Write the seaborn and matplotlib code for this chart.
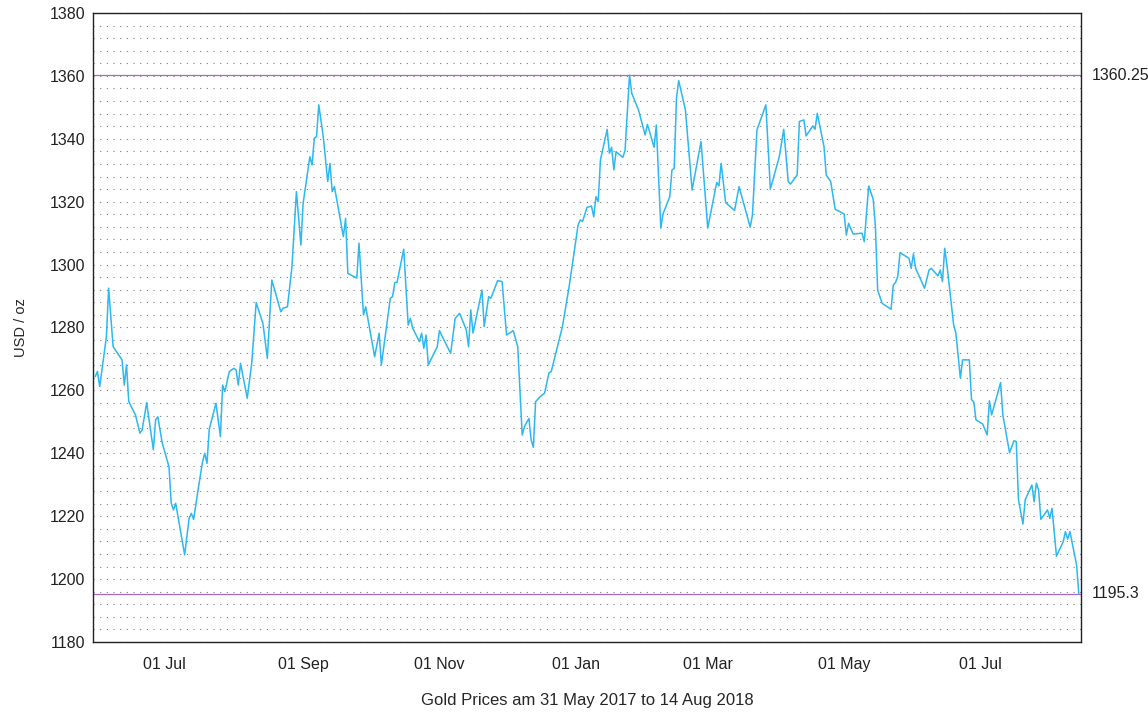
import pandas as pd
import matplotlib.pyplot as plt
import matplotlib.dates as mdates
import matplotlib.transforms as mtransforms
from matplotlib.ticker import MultipleLocator
import seaborn as sns

# config
OUT_PATH = "out.png"
title = "Gold Prices am 31 May 2017 to 14 Aug 2018"
y_label = "USD / oz"
line_color = "#2cb8f0"
limit_color = "#a66ac4"

# daily am fix
dates = [
    "2017-05-31", "2017-06-01", "2017-06-02", "2017-06-05", "2017-06-06", "2017-06-08",
    "2017-06-12", "2017-06-13", "2017-06-14", "2017-06-15", "2017-06-18", "2017-06-20",
    "2017-06-21", "2017-06-23", "2017-06-26", "2017-06-27", "2017-06-28", "2017-06-30",
    "2017-07-03", "2017-07-04", "2017-07-05", "2017-07-06", "2017-07-10", "2017-07-12",
    "2017-07-13", "2017-07-14", "2017-07-16", "2017-07-18", "2017-07-19", "2017-07-20",
    "2017-07-21", "2017-07-24", "2017-07-26", "2017-07-27", "2017-07-28", "2017-07-30",
    "2017-08-01", "2017-08-02", "2017-08-03", "2017-08-04", "2017-08-07", "2017-08-09",
    "2017-08-11", "2017-08-14", "2017-08-16", "2017-08-18", "2017-08-22", "2017-08-23",
    "2017-08-25", "2017-08-27", "2017-08-29", "2017-08-31", "2017-09-01", "2017-09-04",
    "2017-09-05", "2017-09-06", "2017-09-07", "2017-09-08", "2017-09-10", "2017-09-12",
    "2017-09-13", "2017-09-14", "2017-09-15", "2017-09-19", "2017-09-20", "2017-09-21",
    "2017-09-25", "2017-09-26", "2017-09-28", "2017-09-29", "2017-10-03", "2017-10-05",
    "2017-10-06", "2017-10-10", "2017-10-11", "2017-10-12", "2017-10-13", "2017-10-16",
    "2017-10-18", "2017-10-19", "2017-10-20", "2017-10-23", "2017-10-24", "2017-10-25",
    "2017-10-26", "2017-10-27", "2017-10-31", "2017-11-01", "2017-11-03", "2017-11-06",
    "2017-11-08", "2017-11-10", "2017-11-13", "2017-11-14", "2017-11-15", "2017-11-16",
    "2017-11-20", "2017-11-21", "2017-11-23", "2017-11-24", "2017-11-27", "2017-11-29",
    "2017-12-01", "2017-12-04", "2017-12-06", "2017-12-08", "2017-12-09", "2017-12-11",
    "2017-12-12", "2017-12-13", "2017-12-14", "2017-12-16", "2017-12-18", "2017-12-20",
    "2017-12-21", "2017-12-26", "2017-12-29", "2018-01-02", "2018-01-03", "2018-01-04",
    "2018-01-06", "2018-01-08", "2018-01-09", "2018-01-10", "2018-01-11", "2018-01-12",
    "2018-01-15", "2018-01-16", "2018-01-17", "2018-01-18", "2018-01-19", "2018-01-22",
    "2018-01-23", "2018-01-25", "2018-01-26", "2018-01-29", "2018-02-01", "2018-02-02",
    "2018-02-05", "2018-02-06", "2018-02-08", "2018-02-09", "2018-02-12", "2018-02-13",
    "2018-02-14", "2018-02-15", "2018-02-16", "2018-02-19", "2018-02-22", "2018-02-26",
    "2018-03-01", "2018-03-05", "2018-03-06", "2018-03-07", "2018-03-09", "2018-03-13",
    "2018-03-15", "2018-03-20", "2018-03-21", "2018-03-23", "2018-03-27", "2018-03-29",
    "2018-04-02", "2018-04-04", "2018-04-06", "2018-04-07", "2018-04-10", "2018-04-11",
    "2018-04-13", "2018-04-14", "2018-04-17", "2018-04-18", "2018-04-19", "2018-04-22",
    "2018-04-23", "2018-04-25", "2018-04-27", "2018-05-01", "2018-05-02", "2018-05-03",
    "2018-05-05", "2018-05-09", "2018-05-10", "2018-05-12", "2018-05-14", "2018-05-15",
    "2018-05-16", "2018-05-18", "2018-05-22", "2018-05-23", "2018-05-24", "2018-05-25",
    "2018-05-26", "2018-05-30", "2018-05-31", "2018-06-01", "2018-06-02", "2018-06-06",
    "2018-06-08", "2018-06-09", "2018-06-12", "2018-06-13", "2018-06-14", "2018-06-15",
    "2018-06-16", "2018-06-19", "2018-06-20", "2018-06-22", "2018-06-23", "2018-06-26",
    "2018-06-27", "2018-06-28", "2018-06-29", "2018-07-02", "2018-07-04", "2018-07-05",
    "2018-07-06", "2018-07-10", "2018-07-11", "2018-07-14", "2018-07-16", "2018-07-17",
    "2018-07-18", "2018-07-20", "2018-07-21", "2018-07-24", "2018-07-25", "2018-07-26",
    "2018-07-27", "2018-07-28", "2018-07-31", "2018-08-01", "2018-08-02", "2018-08-04",
    "2018-08-07", "2018-08-08", "2018-08-09", "2018-08-10", "2018-08-13", "2018-08-14",
]
prices = [
    1264.4, 1266.0, 1261.2, 1277.1, 1292.5, 1273.9,
    1269.7, 1261.7, 1268.1, 1256.4, 1252.2, 1246.4,
    1247.4, 1256.1, 1241.1, 1250.6, 1251.6, 1243.2,
    1235.7, 1224.1, 1222.0, 1224.1, 1207.7, 1219.3,
    1220.9, 1219.0, 1228.3, 1237.3, 1240.0, 1236.8,
    1247.6, 1255.9, 1245.3, 1261.7, 1259.6, 1266.0,
    1267.0, 1266.5, 1261.7, 1268.6, 1257.5, 1268.6,
    1287.9, 1281.3, 1270.2, 1295.1, 1285.0, 1286.1,
    1286.6, 1299.3, 1323.2, 1306.2, 1319.5, 1334.3,
    1331.7, 1340.2, 1340.7, 1350.8, 1340.7, 1326.4,
    1332.2, 1323.2, 1324.8, 1308.9, 1314.7, 1297.2,
    1295.7, 1306.8, 1284.0, 1286.6, 1270.7, 1278.2,
    1268.1, 1289.3, 1289.8, 1294.3, 1294.3, 1304.9,
    1280.8, 1282.9, 1279.8, 1275.5, 1278.2, 1273.4,
    1277.6, 1268.1, 1273.9, 1279.0, 1276.0, 1271.8,
    1282.9, 1284.5, 1279.2, 1273.9, 1285.6, 1278.2,
    1291.9, 1280.3, 1289.8, 1289.3, 1294.9, 1294.6,
    1277.6, 1279.0, 1273.9, 1245.8, 1248.5, 1251.1,
    1244.2, 1241.9, 1256.4, 1258.0, 1259.1, 1265.6,
    1266.0, 1280.3, 1293.0, 1312.6, 1314.2, 1313.7,
    1318.2, 1318.6, 1315.2, 1321.6, 1320.0, 1333.3,
    1343.0, 1335.4, 1337.3, 1330.1, 1335.9, 1334.1,
    1336.2, 1360.25, 1354.5, 1349.2, 1341.2, 1344.6,
    1337.3, 1344.4, 1311.6, 1316.1, 1321.6, 1330.1,
    1330.6, 1352.9, 1358.5, 1349.2, 1323.7, 1339.1,
    1311.6, 1326.1, 1325.0, 1332.2, 1319.7, 1317.2,
    1324.8, 1311.9, 1315.8, 1342.8, 1350.8, 1324.0,
    1334.3, 1343.0, 1326.4, 1325.6, 1328.5, 1345.5,
    1346.0, 1340.9, 1344.1, 1343.0, 1348.1, 1337.5,
    1328.5, 1326.4, 1317.6, 1316.1, 1309.4, 1313.1,
    1309.7, 1310.0, 1307.3, 1325.0, 1320.8, 1312.1,
    1291.9, 1287.7, 1285.8, 1293.5, 1294.3, 1296.2,
    1303.8, 1302.0, 1298.8, 1303.4, 1298.8, 1292.5,
    1298.3, 1298.8, 1296.4, 1298.3, 1294.6, 1305.2,
    1299.9, 1280.8, 1278.2, 1263.9, 1269.7, 1269.7,
    1257.0, 1256.4, 1250.6, 1249.3, 1245.8, 1256.7,
    1252.2, 1262.5, 1252.2, 1240.2, 1244.0, 1243.7,
    1225.2, 1217.5, 1225.2, 1229.9, 1224.6, 1230.5,
    1228.3, 1219.0, 1222.0, 1219.3, 1222.5, 1207.3,
    1211.9, 1215.1, 1212.7, 1215.1, 1204.5, 1195.3,
]

y_ticks = list(range(1180, 1381, 20))


def plot_gold(path: str = OUT_PATH):
    df = pd.DataFrame({"date": pd.to_datetime(dates), "price": prices})
    hi = df["price"].max()
    lo = df["price"].min()

    sns.set_style("white")
    plt.rcParams["font.family"] = ["Liberation Sans", "DejaVu Sans"]
    plt.rcParams["text.color"] = "#222222"

    fig = plt.figure(figsize=(11.48, 7.13), dpi=100)
    ax = fig.add_axes([0.081, 0.0996, 0.8607, 0.8822])

    sns.lineplot(data=df, x="date", y="price", ax=ax, color=line_color,
                 linewidth=1.1, estimator=None, sort=False, zorder=3)

    # max / min reference lines with values outside the frame
    ax.axhline(hi, color=limit_color, linewidth=0.9, zorder=2)
    ax.axhline(lo, color=limit_color, linewidth=0.9, zorder=2)
    trans = mtransforms.blended_transform_factory(ax.transAxes, ax.transData)
    ax.text(1.011, hi, f"{hi:g}", transform=trans, ha="left", va="center", fontsize=11.5)
    ax.text(1.011, lo, f"{lo:g}", transform=trans, ha="left", va="center", fontsize=11.5)

    # axes
    ax.set_ylim(1180, 1380)
    ax.set_yticks(y_ticks)
    ax.yaxis.set_minor_locator(MultipleLocator(4))
    ax.set_xlim(df["date"].min() - pd.Timedelta(days=1), df["date"].max() + pd.Timedelta(days=1))
    ax.xaxis.set_major_locator(mdates.MonthLocator(bymonth=[1, 3, 5, 7, 9, 11]))
    ax.xaxis.set_minor_locator(mdates.DayLocator(bymonthday=[1, 11, 21]))
    ax.xaxis.set_major_formatter(mdates.DateFormatter("%d %b"))

    ax.yaxis.grid(True, which="both", linestyle=(0, (1, 5)), linewidth=0.8, color="#7f7f7f")
    ax.xaxis.grid(False)

    ax.tick_params(axis="both", which="both", direction="in", color="#222222", width=1.0,
                   labelsize=11.5, labelcolor="#222222")
    ax.tick_params(axis="y", which="major", length=7, pad=5.5)
    ax.tick_params(axis="y", which="minor", length=3.5)
    ax.tick_params(axis="x", which="major", length=6.5, pad=10.5)
    ax.tick_params(axis="x", which="minor", length=3.5)
    for s in ax.spines.values():
        s.set_color("#222222")
        s.set_linewidth(1.0)

    ax.set_xlabel(title, fontsize=12)
    ax.set_ylabel(y_label, fontsize=10.5)
    ax.xaxis.set_label_coords(0.5, -0.081)
    ax.yaxis.set_label_coords(-0.066, 0.5)

    fig.savefig(path, dpi=100)


if __name__ == "__main__":
    plot_gold()
